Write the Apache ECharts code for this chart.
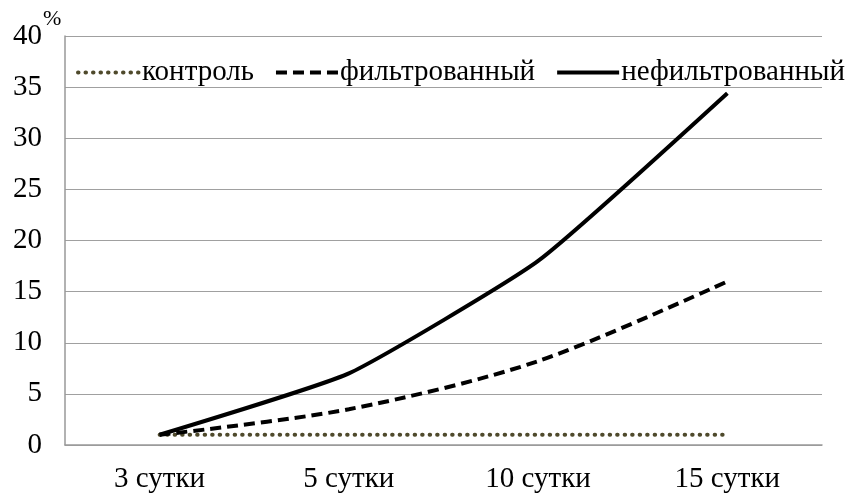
<!DOCTYPE html>
<html>
<head>
<meta charset="utf-8">
<script src="https://cdn.jsdelivr.net/npm/echarts@6/dist/echarts.min.js"></script>
<style>
  html, body { margin: 0; padding: 0; background: #fff; }
  #main { width: 855px; height: 497px; }
</style>
</head>
<body>
<div id="main"></div>
<script>
// данные графика
var categories = ['3 сутки', '5 сутки', '10 сутки', '15 сутки'];
var control = [1, 1, 1, 1];
var filtered = [1, 3.5, 8.2, 16];
var unfiltered = [1, 7, 18, 34.4];

var font = '"Liberation Serif", "Times New Roman", serif';
var chart = echarts.init(document.getElementById('main'), null, { renderer: 'canvas' });

var option = {
    animation: false,
    backgroundColor: '#fff',
    textStyle: { fontFamily: font },
    grid: { left: 65, right: 33, top: 36, bottom: 52 },
    legend: {
        left: 76,
        top: 58,
        width: 779,
        padding: 0,
        itemWidth: 62,
        itemHeight: 14,
        itemGap: 20,
        itemStyle: { opacity: 0 },
        lineStyle: { width: 4 },
        textStyle: { fontFamily: font, fontSize: 29, color: '#000', padding: [0, 0, 0, -3] },
        data: ['контроль', 'фильтрованный', 'нефильтрованный']
    },
    graphic: [{
        type: 'text',
        left: 43,
        top: 8,
        style: { text: '%', font: '22px ' + font, fill: '#000' }
    }],
    xAxis: {
        type: 'category',
        data: categories,
        boundaryGap: true,
        axisLine: { lineStyle: { color: '#999', width: 1.5 } },
        axisTick: { show: false },
        axisLabel: { color: '#000', fontSize: 29, fontFamily: font, margin: 20 }
    },
    yAxis: {
        type: 'value',
        min: 0,
        max: 40,
        interval: 5,
        axisLine: { show: true, lineStyle: { color: '#999', width: 1.5 } },
        axisTick: { show: false },
        axisLabel: { color: '#000', fontSize: 29, fontFamily: font, margin: 23 },
        splitLine: { lineStyle: { color: '#a0a0a0', width: 1.2 } }
    },
    series: [
        {
            name: 'контроль',
            type: 'line',
            data: control,
            symbol: 'none',
            lineStyle: { color: '#4f4a2c', width: 4, type: [0.5, 7], cap: 'round' },
            itemStyle: { color: '#4f4a2c' }
        },
        {
            name: 'фильтрованный',
            type: 'line',
            data: filtered,
            symbol: 'none',
            smooth: 0.3,
            lineStyle: { color: '#000', width: 4, type: [11, 6] },
            itemStyle: { color: '#000' }
        },
        {
            name: 'нефильтрованный',
            type: 'line',
            data: unfiltered,
            symbol: 'none',
            smooth: 0.15,
            lineStyle: { color: '#000', width: 4 },
            itemStyle: { color: '#000' }
        }
    ]
};

chart.setOption(option);
</script>
</body>
</html>
